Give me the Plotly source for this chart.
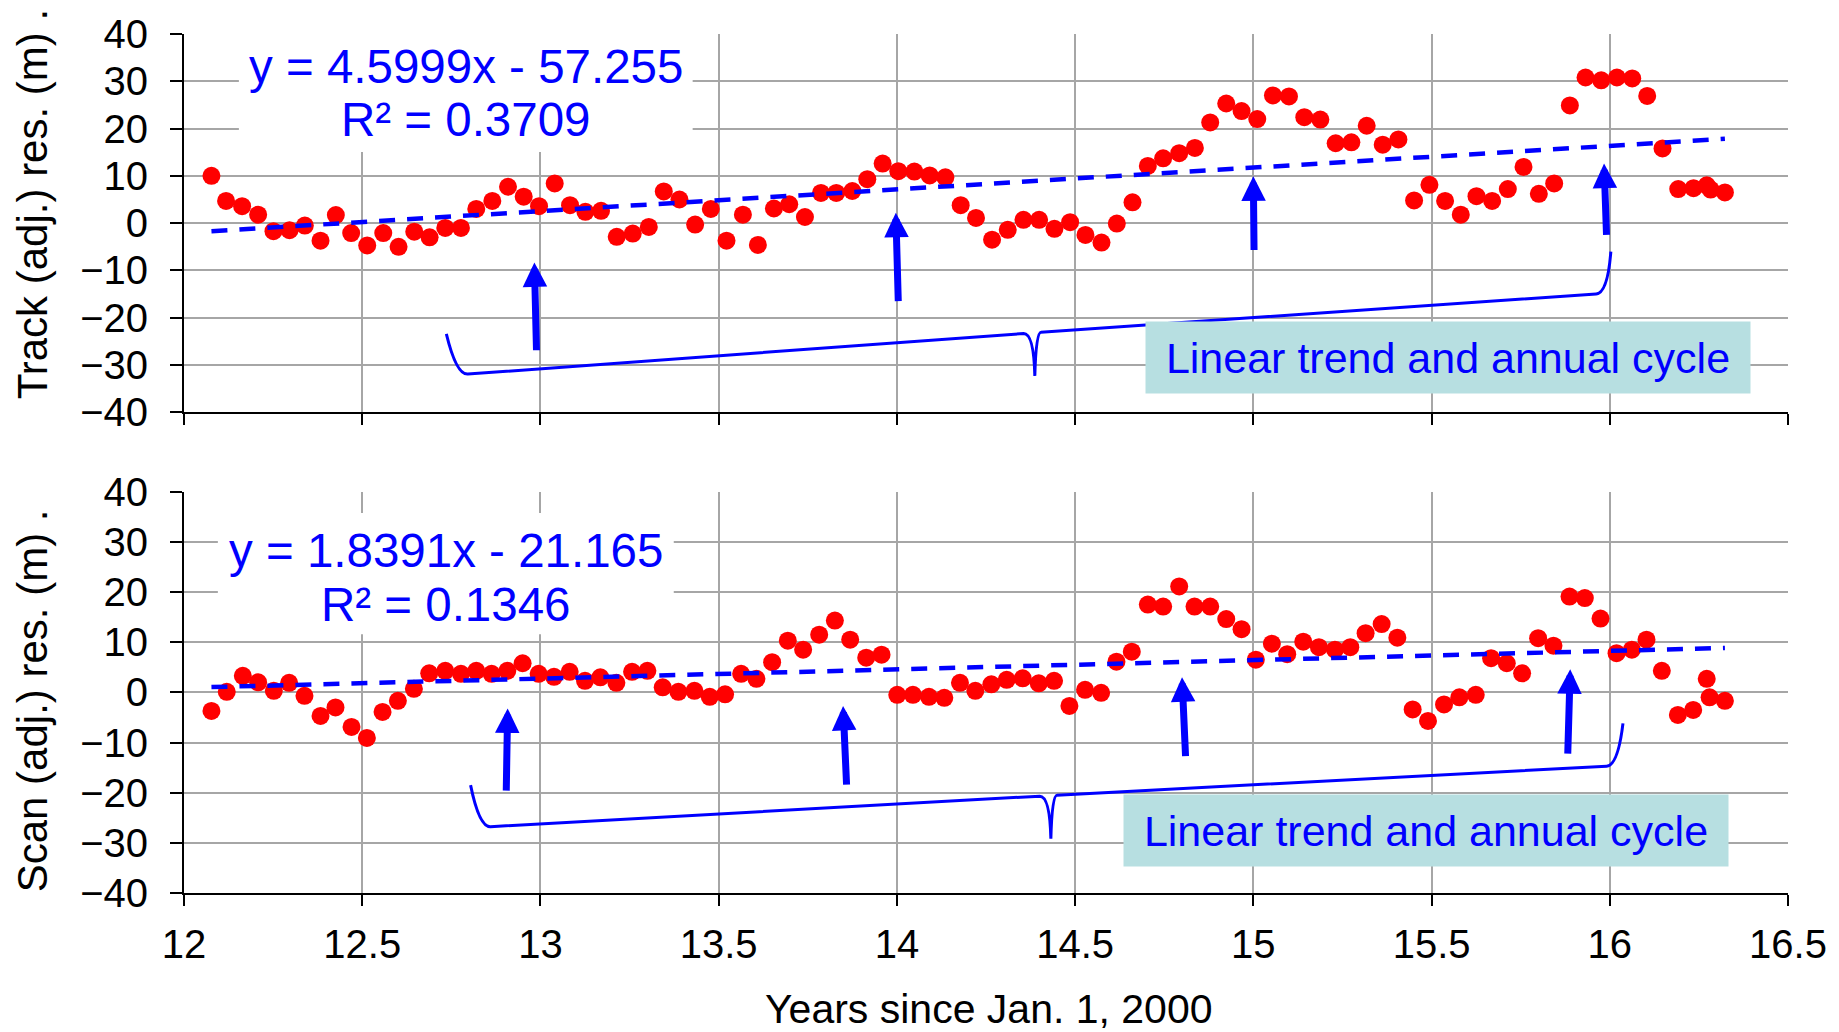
import plotly.graph_objects as go

# ---------------- data ----------------
track_x = [12.077, 12.118, 12.163, 12.208, 12.251, 12.296, 12.339, 12.383, 12.426, 12.469,
           12.514, 12.559, 12.602, 12.646, 12.689, 12.733, 12.777, 12.820, 12.865, 12.909,
           12.953, 12.996, 13.040, 13.083, 13.126, 13.170, 13.214, 13.259, 13.304, 13.346,
           13.390, 13.434, 13.478, 13.522, 13.568, 13.610, 13.655, 13.698, 13.742, 13.787,
           13.830, 13.875, 13.917, 13.960, 14.004, 14.049, 14.092, 14.136, 14.179, 14.222,
           14.267, 14.311, 14.355, 14.399, 14.442, 14.486, 14.529, 14.574, 14.617, 14.661,
           14.704, 14.747, 14.792, 14.836, 14.879, 14.924, 14.967, 15.011, 15.055, 15.100,
           15.143, 15.188, 15.231, 15.275, 15.318, 15.363, 15.407, 15.451, 15.494, 15.538,
           15.582, 15.626, 15.670, 15.714, 15.758, 15.801, 15.844, 15.888, 15.932, 15.976,
           16.020, 16.063, 16.105, 16.148, 16.192, 16.235, 16.272, 16.283, 16.323]
track_y = [10.0, 4.7, 3.6, 1.8, -1.7, -1.5, -0.5, -3.7, 1.7, -2.1,
           -4.7, -2.1, -5.0, -1.8, -3.0, -1.0, -1.0, 3.0, 4.7, 7.7,
           5.6, 3.6, 8.4, 3.8, 2.4, 2.6, -2.9, -2.2, -0.8, 6.7,
           5.0, -0.3, 3.0, -3.7, 1.8, -4.6, 3.1, 4.0, 1.3, 6.4,
           6.4, 6.8, 9.3, 12.6, 11.0, 10.9, 10.1, 9.7, 3.8, 1.1,
           -3.5, -1.4, 0.7, 0.7, -1.2, 0.2, -2.5, -4.1, -0.1, 4.4,
           12.1, 13.7, 14.8, 15.9, 21.3, 25.3, 23.7, 22.0, 27.0, 26.8,
           22.4, 21.9, 16.9, 17.1, 20.6, 16.6, 17.7, 4.8, 8.1, 4.7,
           1.8, 5.7, 4.7, 7.2, 11.9, 6.2, 8.4, 24.9, 30.8, 30.2,
           30.8, 30.6, 26.9, 15.8, 7.2, 7.4, 8.0, 7.1, 6.5]

scan_x = [12.077, 12.120, 12.165, 12.208, 12.252, 12.295, 12.338, 12.383, 12.425, 12.470,
          12.513, 12.557, 12.600, 12.645, 12.688, 12.733, 12.777, 12.820, 12.863, 12.907,
          12.950, 12.995, 13.038, 13.082, 13.125, 13.168, 13.213, 13.257, 13.300, 13.343,
          13.387, 13.432, 13.475, 13.518, 13.563, 13.606, 13.650, 13.694, 13.737, 13.782,
          13.826, 13.869, 13.914, 13.957, 14.001, 14.045, 14.090, 14.133, 14.177, 14.220,
          14.265, 14.308, 14.353, 14.398, 14.441, 14.484, 14.528, 14.573, 14.616, 14.659,
          14.704, 14.747, 14.792, 14.835, 14.879, 14.924, 14.967, 15.007, 15.052, 15.095,
          15.140, 15.184, 15.229, 15.272, 15.315, 15.360, 15.404, 15.447, 15.490, 15.535,
          15.578, 15.624, 15.667, 15.711, 15.754, 15.799, 15.842, 15.887, 15.930, 15.974,
          16.019, 16.062, 16.103, 16.146, 16.191, 16.234, 16.272, 16.280, 16.323]
scan_y = [-3.7, 0.1, 3.3, 2.0, 0.3, 1.9, -0.7, -4.7, -3.0, -6.9,
          -9.1, -3.9, -1.7, 0.7, 3.8, 4.3, 3.7, 4.3, 3.7, 4.3,
          5.8, 3.7, 3.1, 4.1, 2.3, 3.0, 1.9, 4.1, 4.3, 1.0,
          0.1, 0.3, -0.9, -0.4, 3.7, 2.7, 6.0, 10.3, 8.5, 11.5,
          14.3, 10.5, 6.9, 7.5, -0.5, -0.5, -0.9, -1.1, 1.9, 0.3,
          1.6, 2.5, 2.8, 1.8, 2.3, -2.7, 0.5, -0.1, 6.1, 8.1,
          17.5, 17.1, 21.1, 17.1, 17.1, 14.6, 12.6, 6.5, 9.7, 7.6,
          10.1, 9.0, 8.5, 9.0, 11.8, 13.6, 10.9, -3.4, -5.7, -2.4,
          -1.0, -0.5, 6.8, 5.8, 3.8, 10.8, 9.3, 19.1, 18.8, 14.7,
          7.8, 8.5, 10.5, 4.3, -4.5, -3.5, 2.7, -1.0, -1.7]

# trend-line coefficients as printed on the chart
track_slope, track_intercept, track_r2 = 4.5999, -57.255, 0.3709
scan_slope, scan_intercept, scan_r2 = 1.8391, -21.165, 0.1346

x_ticks = [12, 12.5, 13, 13.5, 14, 14.5, 15, 15.5, 16, 16.5]
x_tick_text = ["12", "12.5", "13", "13.5", "14", "14.5", "15", "15.5", "16", "16.5"]
y_ticks = [-40, -30, -20, -10, 0, 10, 20, 30, 40]

# annotation anchors (data coordinates): arrows (tail -> tip)
track_arrows = [((12.989, -27.2), (12.983, -8.3)), ((14.004, -16.8), (13.997, 2.2)),
                ((15.002, -6.0), (15.000, 9.9)), ((15.991, -2.8), (15.984, 12.6))]
scan_arrows = [((12.904, -19.9), (12.908, -3.2)), ((13.859, -18.7), (13.849, -2.7)),
               ((14.810, -13.0), (14.800, 3.0)), ((15.882, -12.5), (15.889, 4.6))]
# braces: arm top left, corner left, cusp, tip, corner right, arm top right
track_brace = [(12.736, -23.4), (12.764, -32.1), (14.380, -23.2), (14.387, -32.3),
               (15.994, -14.8), (16.003, -6.0)]
scan_brace = [(12.804, -18.5), (12.828, -26.9), (14.425, -20.6), (14.432, -29.2),
              (16.023, -14.6), (16.037, -6.2)]

BLUE = "#0000FF"
RED = "#FF0000"
GRID = "#a6a6a6"
FONT = "Liberation Sans, Arial, sans-serif"

fig = go.Figure()

panels = [
    ("x", "y", track_x, track_y, track_slope, track_intercept),
    ("x2", "y2", scan_x, scan_y, scan_slope, scan_intercept),
]
for xa, ya, xs, ys, m, b in panels:
    fig.add_trace(go.Scatter(x=xs, y=ys, mode="markers", xaxis=xa, yaxis=ya,
                             marker=dict(color=RED, size=18, line=dict(width=0)),
                             showlegend=False, cliponaxis=False))
    xe = [min(xs), max(xs)]
    fig.add_trace(go.Scatter(x=xe, y=[m * v + b for v in xe], mode="lines", xaxis=xa, yaxis=ya,
                             line=dict(color=BLUE, width=4.5, dash="16px,12px"),
                             showlegend=False))

axis_common = dict(range=[12, 16.5], tickvals=x_ticks, ticktext=x_tick_text,
                   showgrid=True, gridcolor=GRID, gridwidth=2, zeroline=False,
                   showline=True, linecolor="black", linewidth=2,
                   ticks="outside", ticklen=11, tickwidth=2, tickcolor="black",
                   tickfont=dict(family=FONT, size=40, color="black"))
yaxis_common = dict(range=[-40, 40], tickvals=y_ticks,
                    showgrid=True, gridcolor=GRID, gridwidth=2, zeroline=False,
                    showline=True, linecolor="black", linewidth=2,
                    ticks="outside", ticklen=12, tickwidth=2, tickcolor="black",
                    ticklabelstandoff=14,
                    tickfont=dict(family=FONT, size=40, color="black"))

fig.update_layout(
    width=1839, height=1032,
    margin=dict(l=184, r=48, t=34, b=139),
    paper_bgcolor="white", plot_bgcolor="white",
    font=dict(family=FONT, color="black"),
    xaxis=dict(axis_common, anchor="y", showticklabels=False),
    yaxis=dict(yaxis_common, domain=[0.5596, 1.0], anchor="x"),
    xaxis2=dict(axis_common, anchor="y2", ticklabelstandoff=4),
    yaxis2=dict(yaxis_common, domain=[0.0, 0.4672], anchor="x2"),
)

# white boxes behind the regression equations
fig.add_shape(type="rect", xref="x", yref="y", x0=12.154, x1=13.427, y0=15.05, y1=40.0,
              fillcolor="white", line=dict(width=0), layer="above")
fig.add_shape(type="rect", xref="x2", yref="y2", x0=12.095, x1=13.374, y0=11.6, y1=35.75,
              fillcolor="white", line=dict(width=0), layer="above")

eq_specs = [
    ("x", "y", 12.79, 33.1, 21.9, track_slope, track_intercept, track_r2),
    ("x2", "y2", 12.736, 28.3, 17.6, scan_slope, scan_intercept, scan_r2),
]
for xr, yr, xc, y1, y2, m, b, r2 in eq_specs:
    sign = "-" if b < 0 else "+"
    fig.add_annotation(xref=xr, yref=yr, x=xc, y=y1, showarrow=False,
                       text=f"y = {m:.4f}x {sign} {abs(b):.3f}",
                       font=dict(family=FONT, size=47.5, color=BLUE),
                       xanchor="center", yanchor="middle")
    fig.add_annotation(xref=xr, yref=yr, x=xc, y=y2, showarrow=False,
                       text=f"R² = {r2:.4f}",
                       font=dict(family=FONT, size=47.5, color=BLUE),
                       xanchor="center", yanchor="middle")

# arrows
for xr, yr, arrows in [("x", "y", track_arrows), ("x2", "y2", scan_arrows)]:
    for (tx, ty), (hx, hy) in arrows:
        fig.add_annotation(xref=xr, yref=yr, axref=xr, ayref=yr,
                           x=hx, y=hy, ax=tx, ay=ty, text="", showarrow=True,
                           arrowhead=2, arrowsize=0.7, arrowwidth=7, arrowcolor=BLUE,
                           standoff=0, startstandoff=0)


# curly braces
def brace_path(pts):
    lt, lc, cusp, tip, rc, rt = pts

    def lerp(a, bb, f):
        return (a[0] + (bb[0] - a[0]) * f, a[1] + (bb[1] - a[1]) * f)

    lb = lerp(lc, cusp, 0.02)
    cl = lerp(lc, cusp, 0.985)
    cr = lerp(cusp, rc, 0.015)
    rb = lerp(cusp, rc, 0.98)
    p = f"M{lt[0]:.4f},{lt[1]:.3f} Q{lc[0]:.4f},{lc[1]:.3f} {lb[0]:.4f},{lb[1]:.3f} "
    p += f"L{cl[0]:.4f},{cl[1]:.3f} "
    p += f"Q{tip[0] - 0.003:.4f},{cl[1]:.3f} {tip[0]:.4f},{tip[1]:.3f} "
    p += f"Q{tip[0] + 0.003:.4f},{cr[1]:.3f} {cr[0]:.4f},{cr[1]:.3f} "
    p += f"L{rb[0]:.4f},{rb[1]:.3f} "
    p += f"Q{rc[0]:.4f},{rc[1]:.3f} {rt[0]:.4f},{rt[1]:.3f}"
    return p


for xr, yr, pts in [("x", "y", track_brace), ("x2", "y2", scan_brace)]:
    fig.add_shape(type="path", xref=xr, yref=yr, path=brace_path(pts),
                  line=dict(color=BLUE, width=3), layer="above")

# "Linear trend and annual cycle" labels
for xr, yr, xc, yc in [("x", "y", 15.546, -28.4), ("x2", "y2", 15.485, -27.5)]:
    fig.add_annotation(xref=xr, yref=yr, x=xc, y=yc, showarrow=False,
                       text="Linear trend and annual cycle",
                       font=dict(family=FONT, size=43, color=BLUE),
                       bgcolor="#b7dfe1", width=604, height=71, borderpad=0,
                       xanchor="center", yanchor="middle", align="center", valign="middle")

# axis titles
fig.add_annotation(xref="paper", yref="paper", x=-0.0946, y=0.802, showarrow=False,
                   text="Track (adj.) res. (m) .", textangle=-90,
                   font=dict(family=FONT, size=42, color="black"),
                   xanchor="center", yanchor="middle")
fig.add_annotation(xref="paper", yref="paper", x=-0.0946, y=0.2235, showarrow=False,
                   text="Scan (adj.) res. (m) .", textangle=-90,
                   font=dict(family=FONT, size=42, color="black"),
                   xanchor="center", yanchor="middle")
fig.add_annotation(xref="paper", yref="paper", x=0.5016, y=-0.1345, showarrow=False,
                   text="Years since Jan. 1, 2000",
                   font=dict(family=FONT, size=41, color="black"),
                   xanchor="center", yanchor="middle")

fig.write_html("out.html")
